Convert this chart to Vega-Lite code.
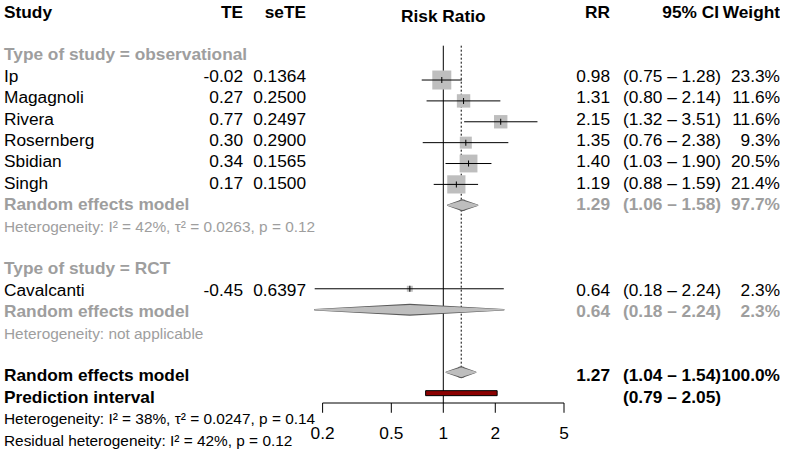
{
  "$schema": "https://vega.github.io/schema/vega-lite/v6.json",
  "padding": {"left": 4, "top": 0, "right": 0, "bottom": 0},
  "autosize": {"type": "pad"},
  "background": "white",
  "spacing": 0,
  "bounds": "flush",
  "config": {
    "view": {"stroke": null},
    "font": "Liberation Sans",
    "text": {"font": "Liberation Sans", "fontSize": 17.3, "baseline": "middle"}
  },
  "datasets": {
    "rows": [
      {"row": 0, "kind": "header", "label": "Study", "te": "TE", "sete": "seTE", "plot": "Risk Ratio", "rr": "RR", "ci": "95% CI", "wt": "Weight"},
      {"row": 2, "kind": "group", "label": "Type of study = observational"},
      {"row": 3, "kind": "study", "label": "Ip", "te": "-0.02", "sete": "0.1364", "rr": "0.98", "ci": "(0.75 – 1.28)", "wt": "23.3%", "est": 0.98, "lo": 0.75, "hi": 1.28, "w": 23.3},
      {"row": 4, "kind": "study", "label": "Magagnoli", "te": "0.27", "sete": "0.2500", "rr": "1.31", "ci": "(0.80 – 2.14)", "wt": "11.6%", "est": 1.31, "lo": 0.80, "hi": 2.14, "w": 11.6},
      {"row": 5, "kind": "study", "label": "Rivera", "te": "0.77", "sete": "0.2497", "rr": "2.15", "ci": "(1.32 – 3.51)", "wt": "11.6%", "est": 2.15, "lo": 1.32, "hi": 3.51, "w": 11.6},
      {"row": 6, "kind": "study", "label": "Rosernberg", "te": "0.30", "sete": "0.2900", "rr": "1.35", "ci": "(0.76 – 2.38)", "wt": "9.3%", "est": 1.35, "lo": 0.76, "hi": 2.38, "w": 9.3},
      {"row": 7, "kind": "study", "label": "Sbidian", "te": "0.34", "sete": "0.1565", "rr": "1.40", "ci": "(1.03 – 1.90)", "wt": "20.5%", "est": 1.40, "lo": 1.03, "hi": 1.90, "w": 20.5},
      {"row": 8, "kind": "study", "label": "Singh", "te": "0.17", "sete": "0.1500", "rr": "1.19", "ci": "(0.88 – 1.59)", "wt": "21.4%", "est": 1.19, "lo": 0.88, "hi": 1.59, "w": 21.4},
      {"row": 9, "kind": "sub", "label": "Random effects model", "rr": "1.29", "ci": "(1.06 – 1.58)", "wt": "97.7%", "est": 1.29, "lo": 1.06, "hi": 1.58},
      {"row": 10, "kind": "subhet", "label": "Heterogeneity: I² = 42%, τ² = 0.0263, p = 0.12"},
      {"row": 12, "kind": "group", "label": "Type of study = RCT"},
      {"row": 13, "kind": "study", "label": "Cavalcanti", "te": "-0.45", "sete": "0.6397", "rr": "0.64", "ci": "(0.18 – 2.24)", "wt": "2.3%", "est": 0.64, "lo": 0.18, "hi": 2.24, "w": 2.3},
      {"row": 14, "kind": "sub", "label": "Random effects model", "rr": "0.64", "ci": "(0.18 – 2.24)", "wt": "2.3%", "est": 0.64, "lo": 0.18, "hi": 2.24},
      {"row": 15, "kind": "subhet", "label": "Heterogeneity: not applicable"},
      {"row": 17, "kind": "overall", "label": "Random effects model", "rr": "1.27", "ci": "(1.04 – 1.54)", "wt": "100.0%", "est": 1.27, "lo": 1.04, "hi": 1.54},
      {"row": 18, "kind": "pi", "label": "Prediction interval", "ci": "(0.79 – 2.05)", "lo": 0.79, "hi": 2.05},
      {"row": 19, "kind": "het", "label": "Heterogeneity: I² = 38%, τ² = 0.0247, p = 0.14"},
      {"row": 20, "kind": "het", "label": "Residual heterogeneity: I² = 42%, p = 0.12"}
    ],
    "ticks": [{"t": 0.2}, {"t": 0.5}, {"t": 1}, {"t": 2}, {"t": 5}]
  },
  "data": {"name": "rows"},
  "hconcat": [
    {
      "width": 186, "height": 457,
      "encoding": {
        "y": {"field": "row", "type": "quantitative", "scale": {"domain": [-0.5935, 20.762], "reverse": true, "nice": false, "zero": false}, "axis": null},
        "x": {"datum": 0, "type": "quantitative", "scale": {"domain": [0, 1], "nice": false, "zero": false}, "axis": null},
        "color": {"field": "kind", "type": "nominal", "scale": {"domain": ["header", "group", "study", "sub", "subhet", "overall", "pi", "het"], "range": ["#000000", "#9e9e9e", "#000000", "#9e9e9e", "#9e9e9e", "#000000", "#000000", "#000000"]}, "legend": null}
      },
      "layer": [
        {"transform": [{"filter": {"field": "kind", "oneOf": ["header", "group", "sub", "overall", "pi"]}}], "mark": {"type": "text", "align": "left", "fontWeight": "bold"}, "encoding": {"text": {"field": "label"}}},
        {"transform": [{"filter": {"field": "kind", "equal": "study"}}], "mark": {"type": "text", "align": "left"}, "encoding": {"text": {"field": "label"}}},
        {"transform": [{"filter": {"field": "kind", "oneOf": ["subhet", "het"]}}], "mark": {"type": "text", "align": "left", "fontSize": 15.4}, "encoding": {"text": {"field": "label"}}}
      ]
    },
    {
      "width": 53, "height": 457,
      "encoding": {
        "y": {"field": "row", "type": "quantitative", "scale": {"domain": [-0.5935, 20.762], "reverse": true, "nice": false, "zero": false}, "axis": null},
        "x": {"datum": 1, "type": "quantitative", "scale": {"domain": [0, 1], "nice": false, "zero": false}, "axis": null},
        "color": {"field": "kind", "type": "nominal", "scale": {"domain": ["header", "group", "study", "sub", "subhet", "overall", "pi", "het"], "range": ["#000000", "#9e9e9e", "#000000", "#9e9e9e", "#9e9e9e", "#000000", "#000000", "#000000"]}, "legend": null}
      },
      "layer": [
        {"transform": [{"filter": {"field": "kind", "equal": "header"}}], "mark": {"type": "text", "align": "right", "fontWeight": "bold"}, "encoding": {"text": {"field": "te"}}},
        {"transform": [{"filter": {"field": "kind", "equal": "study"}}], "mark": {"type": "text", "align": "right"}, "encoding": {"text": {"field": "te"}}}
      ]
    },
    {
      "width": 63, "height": 457,
      "encoding": {
        "y": {"field": "row", "type": "quantitative", "scale": {"domain": [-0.5935, 20.762], "reverse": true, "nice": false, "zero": false}, "axis": null},
        "x": {"datum": 1, "type": "quantitative", "scale": {"domain": [0, 1], "nice": false, "zero": false}, "axis": null},
        "color": {"field": "kind", "type": "nominal", "scale": {"domain": ["header", "group", "study", "sub", "subhet", "overall", "pi", "het"], "range": ["#000000", "#9e9e9e", "#000000", "#9e9e9e", "#9e9e9e", "#000000", "#000000", "#000000"]}, "legend": null}
      },
      "layer": [
        {"transform": [{"filter": {"field": "kind", "equal": "header"}}], "mark": {"type": "text", "align": "right", "fontWeight": "bold"}, "encoding": {"text": {"field": "sete"}}},
        {"transform": [{"filter": {"field": "kind", "equal": "study"}}], "mark": {"type": "text", "align": "right"}, "encoding": {"text": {"field": "sete"}}}
      ]
    },
    {
      "width": 269, "height": 408,
      "resolve": {"scale": {"size": "independent"}},
      "layer": [
        {
          "data": {"values": [{}]},
          "mark": {"type": "rule", "color": "#000000", "strokeWidth": 1},
          "encoding": {
            "x": {"datum": 1, "type": "quantitative", "scale": {"type": "log", "domain": [0.1603, 5.789], "nice": false, "zero": false}, "axis": null},
            "y": {"datum": 1.355, "type": "quantitative", "scale": {"domain": [-0.5935, 18.472], "reverse": true, "nice": false, "zero": false}, "axis": null},
            "y2": {"datum": 18.472}
          }
        },
        {
          "transform": [{"filter": {"field": "kind", "equal": "overall"}}],
          "mark": {"type": "rule", "color": "#000000", "strokeWidth": 1, "strokeDash": [2, 2]},
          "encoding": {
            "x": {"field": "est", "type": "quantitative", "axis": null},
            "y": {"datum": 1.355, "type": "quantitative", "axis": null},
            "y2": {"datum": 16.75}
          }
        },
        {
          "transform": [{"filter": {"field": "kind", "equal": "study"}}],
          "mark": {"type": "square", "filled": true, "color": "#bebebe", "opacity": 1},
          "encoding": {
            "x": {"field": "est", "type": "quantitative", "axis": null},
            "y": {"field": "row", "type": "quantitative", "axis": null},
            "size": {"field": "w", "type": "quantitative", "scale": {"type": "linear", "domain": [0, 23.3], "range": [0, 361], "zero": true}, "legend": null}
          }
        },
        {
          "transform": [{"filter": {"field": "kind", "equal": "study"}}],
          "mark": {"type": "rule", "color": "#000000", "strokeWidth": 1},
          "encoding": {
            "x": {"field": "lo", "type": "quantitative", "axis": null},
            "x2": {"field": "hi"},
            "y": {"field": "row", "type": "quantitative", "axis": null}
          }
        },
        {
          "transform": [{"filter": {"field": "kind", "equal": "study"}}],
          "mark": {"type": "tick", "orient": "vertical", "size": 6, "thickness": 1, "color": "#000000", "opacity": 1},
          "encoding": {
            "x": {"field": "est", "type": "quantitative", "axis": null},
            "y": {"field": "row", "type": "quantitative", "axis": null}
          }
        },
        {
          "transform": [{"filter": {"field": "kind", "oneOf": ["sub", "overall"]}}, {"fold": ["lo", "est", "hi"], "as": ["vertex", "xval"]}],
          "mark": {"type": "trail", "color": "#5a5a5a", "opacity": 1},
          "encoding": {
            "x": {"field": "xval", "type": "quantitative", "axis": null},
            "y": {"field": "row", "type": "quantitative", "axis": null},
            "detail": {"field": "row", "type": "nominal"},
            "size": {"field": "vertex", "type": "ordinal", "scale": {"type": "ordinal", "domain": ["lo", "est", "hi"], "range": [1.5, 12, 1.5]}, "legend": null}
          }
        },
        {
          "transform": [{"filter": {"field": "kind", "oneOf": ["sub", "overall"]}}, {"fold": ["lo", "est", "hi"], "as": ["vertex", "xval"]}],
          "mark": {"type": "trail", "color": "#bebebe", "opacity": 1},
          "encoding": {
            "x": {"field": "xval", "type": "quantitative", "axis": null},
            "y": {"field": "row", "type": "quantitative", "axis": null},
            "detail": {"field": "row", "type": "nominal"},
            "size": {"field": "vertex", "type": "ordinal", "scale": {"type": "ordinal", "domain": ["lo", "est", "hi"], "range": [0, 9.5, 0]}, "legend": null}
          }
        },
        {
          "transform": [{"filter": {"field": "kind", "equal": "pi"}}],
          "mark": {"type": "bar", "height": 5, "fill": "#8b0000", "stroke": "#000000", "strokeWidth": 1},
          "encoding": {
            "x": {"field": "lo", "type": "quantitative", "axis": null},
            "x2": {"field": "hi"},
            "y": {"field": "row", "type": "quantitative", "axis": null}
          }
        },
        {
          "data": {"values": [{}]},
          "mark": {"type": "rule", "color": "#000000", "strokeWidth": 1},
          "encoding": {
            "x": {"datum": 0.2, "type": "quantitative", "axis": null},
            "x2": {"datum": 5},
            "y": {"datum": 18.472, "type": "quantitative", "axis": null}
          }
        },
        {
          "data": {"name": "ticks"},
          "mark": {"type": "rule", "color": "#000000", "strokeWidth": 1},
          "encoding": {
            "x": {"field": "t", "type": "quantitative", "axis": null},
            "y": {"datum": 18.472, "type": "quantitative", "axis": null},
            "y2": {"datum": 18.94}
          }
        },
        {
          "data": {"name": "ticks"},
          "mark": {"type": "text", "align": "center", "baseline": "middle", "color": "#000000", "fontSize": 17.3},
          "encoding": {
            "x": {"field": "t", "type": "quantitative", "axis": null},
            "y": {"datum": 19.967, "type": "quantitative", "axis": null},
            "text": {"field": "t", "type": "quantitative", "format": "~g"}
          }
        },
        {
          "transform": [{"filter": {"field": "kind", "equal": "header"}}],
          "mark": {"type": "text", "align": "center", "fontWeight": "bold", "color": "#000000"},
          "encoding": {
            "x": {"datum": 1, "type": "quantitative", "axis": null},
            "y": {"field": "row", "type": "quantitative", "axis": null},
            "text": {"field": "plot"}
          }
        }
      ]
    },
    {
      "width": 35, "height": 457,
      "encoding": {
        "y": {"field": "row", "type": "quantitative", "scale": {"domain": [-0.5935, 20.762], "reverse": true, "nice": false, "zero": false}, "axis": null},
        "x": {"datum": 1, "type": "quantitative", "scale": {"domain": [0, 1], "nice": false, "zero": false}, "axis": null},
        "color": {"field": "kind", "type": "nominal", "scale": {"domain": ["header", "group", "study", "sub", "subhet", "overall", "pi", "het"], "range": ["#000000", "#9e9e9e", "#000000", "#9e9e9e", "#9e9e9e", "#000000", "#000000", "#000000"]}, "legend": null}
      },
      "layer": [
        {"transform": [{"filter": {"field": "kind", "oneOf": ["header", "sub", "overall"]}}], "mark": {"type": "text", "align": "right", "fontWeight": "bold"}, "encoding": {"text": {"field": "rr"}}},
        {"transform": [{"filter": {"field": "kind", "equal": "study"}}], "mark": {"type": "text", "align": "right"}, "encoding": {"text": {"field": "rr"}}}
      ]
    },
    {
      "width": 111, "height": 457,
      "encoding": {
        "y": {"field": "row", "type": "quantitative", "scale": {"domain": [-0.5935, 20.762], "reverse": true, "nice": false, "zero": false}, "axis": null},
        "x": {"datum": 1, "type": "quantitative", "scale": {"domain": [0, 1], "nice": false, "zero": false}, "axis": null},
        "color": {"field": "kind", "type": "nominal", "scale": {"domain": ["header", "group", "study", "sub", "subhet", "overall", "pi", "het"], "range": ["#000000", "#9e9e9e", "#000000", "#9e9e9e", "#9e9e9e", "#000000", "#000000", "#000000"]}, "legend": null}
      },
      "layer": [
        {"transform": [{"filter": {"field": "kind", "equal": "header"}}], "mark": {"type": "text", "align": "right", "fontWeight": "bold", "dx": -2}, "encoding": {"text": {"field": "ci"}}},
        {"transform": [{"filter": {"field": "kind", "oneOf": ["sub", "overall", "pi"]}}], "mark": {"type": "text", "align": "right", "fontWeight": "bold"}, "encoding": {"text": {"field": "ci"}}},
        {"transform": [{"filter": {"field": "kind", "equal": "study"}}], "mark": {"type": "text", "align": "right"}, "encoding": {"text": {"field": "ci"}}}
      ]
    },
    {
      "width": 59, "height": 457,
      "encoding": {
        "y": {"field": "row", "type": "quantitative", "scale": {"domain": [-0.5935, 20.762], "reverse": true, "nice": false, "zero": false}, "axis": null},
        "x": {"datum": 1, "type": "quantitative", "scale": {"domain": [0, 1], "nice": false, "zero": false}, "axis": null},
        "color": {"field": "kind", "type": "nominal", "scale": {"domain": ["header", "group", "study", "sub", "subhet", "overall", "pi", "het"], "range": ["#000000", "#9e9e9e", "#000000", "#9e9e9e", "#9e9e9e", "#000000", "#000000", "#000000"]}, "legend": null}
      },
      "layer": [
        {"transform": [{"filter": {"field": "kind", "oneOf": ["header", "sub", "overall"]}}], "mark": {"type": "text", "align": "right", "fontWeight": "bold"}, "encoding": {"text": {"field": "wt"}}},
        {"transform": [{"filter": {"field": "kind", "equal": "study"}}], "mark": {"type": "text", "align": "right"}, "encoding": {"text": {"field": "wt"}}}
      ]
    }
  ]
}
